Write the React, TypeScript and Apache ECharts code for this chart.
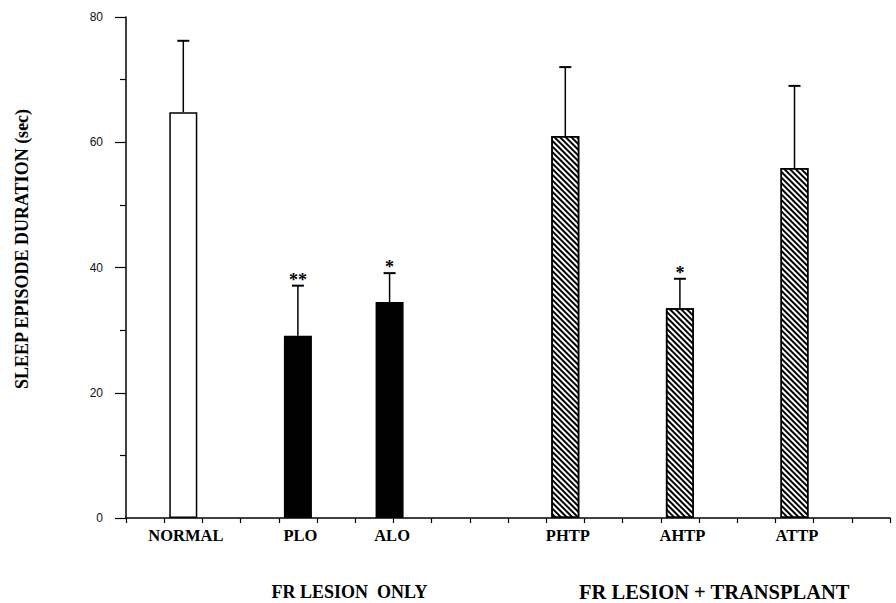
import React, { useEffect, useRef } from "react";
import * as echarts from "echarts";

const categories = ["NORMAL", "PLO", "ALO", "PHTP", "AHTP", "ATTP"];
const positions = [1.5, 4.5, 6.9, 11.5, 14.5, 17.5];
const means = [64.8, 29.1, 34.5, 61.0, 33.5, 55.9];
const errorTops = [76.2, 37.1, 39.1, 72.0, 38.2, 69.0];
const stars = ["", "**", "*", "", "*", ""];
const fills = ["white", "black", "black", "hatch", "hatch", "hatch"];
const groupLabels = ["FR LESION  ONLY", "FR LESION + TRANSPLANT"];
const groupPositions = [5.85, 15.4];
const groupFontSizes = [18, 20.5];
const yTicks = [0, 20, 40, 60, 80];

const SERIF = "'Liberation Serif', 'DejaVu Serif', serif";

export default function App() {
  const ref = useRef<HTMLDivElement>(null);
  useEffect(() => {
    if (!ref.current) return;
    const chart = echarts.init(ref.current, undefined, { renderer: "svg" });
    const hatchDecal = {
      symbol: "rect",
      symbolSize: 1,
      dashArrayX: [1, 0],
      dashArrayY: [1.7, 1.5],
      rotation: Math.PI / 4,
      color: "#000",
      backgroundColor: "#fff",
    };
    const barData = positions.map((x, i) => {
      const f = fills[i];
      return {
        value: [x, means[i]],
        itemStyle:
          f === "white"
            ? { color: "#fff", borderColor: "#000", borderWidth: 1.5 }
            : f === "black"
            ? { color: "#000", borderColor: "#000", borderWidth: 1.5 }
            : { color: "#fff", borderColor: "#000", borderWidth: 1.5, decal: hatchDecal },
      };
    });
    const option: any = {
      animation: false,
      backgroundColor: "#fff",
      aria: { enabled: false },
      grid: { left: 126, right: 6, top: 17, bottom: 85, containLabel: false },
      xAxis: {
        type: "value",
        min: 0,
        max: 20,
        interval: 1,
        splitLine: { show: false },
        axisLine: { show: true, onZero: false, lineStyle: { color: "#000", width: 1.5 } },
        axisTick: { show: true, inside: false, length: 5, lineStyle: { color: "#000", width: 1.2 } },
        axisLabel: { show: false },
      },
      yAxis: {
        type: "value",
        min: 0,
        max: 80,
        interval: 20,
        splitLine: { show: false },
        axisLine: { show: true, lineStyle: { color: "#000", width: 1.5 } },
        axisTick: { show: true, length: 11, lineStyle: { color: "#000", width: 1.2 } },
        minorTick: { show: true, splitNumber: 2, length: 6, lineStyle: { color: "#000", width: 1.2 } },
        axisLabel: {
          margin: 23,
          color: "#111",
          fontSize: 12,
          fontFamily: "'Liberation Sans', Arial, sans-serif",
          formatter: (v: number) => (yTicks.includes(v) ? String(v) : ""),
        },
      },
      graphic: [
        {
          type: "text",
          x: 22,
          y: 249,
          rotation: Math.PI / 2,
          style: {
            text: "SLEEP EPISODE DURATION (sec)",
            font: `bold 18px ${SERIF}`,
            fill: "#000",
            align: "center",
            verticalAlign: "middle",
          },
        },
      ],
      series: [
        {
          type: "bar",
          barWidth: 28,
          data: barData,
          z: 2,
        },
        {
          type: "custom",
          clip: false,
          z: 3,
          data: positions.map((x, i) => [x, means[i], errorTops[i]]),
          renderItem: (params: any, api: any) => {
            const i = params.dataIndex;
            const b = api.coord([api.value(0), api.value(1)]);
            const t = api.coord([api.value(0), api.value(2)]);
            const children: any[] = [
              { type: "line", shape: { x1: b[0], y1: b[1], x2: t[0], y2: t[1] }, style: { stroke: "#000", lineWidth: 1.5 } },
              { type: "line", shape: { x1: t[0] - 6, y1: t[1], x2: t[0] + 6, y2: t[1] }, style: { stroke: "#000", lineWidth: 2 } },
            ];
            if (stars[i]) {
              children.push({
                type: "text",
                x: t[0],
                y: t[1] - 6,
                style: {
                  text: stars[i],
                  font: `bold 18px ${SERIF}`,
                  fill: "#000",
                  align: "center",
                  verticalAlign: "middle",
                },
              });
            }
            return { type: "group", children };
          },
        },
        {
          type: "custom",
          clip: false,
          z: 3,
          data: positions.map((x) => [x, 0]),
          renderItem: (params: any, api: any) => {
            const p = api.coord([api.value(0), 0]);
            return {
              type: "text",
              x: p[0] + 2.5,
              y: p[1] + 17,
              style: {
                text: categories[params.dataIndex],
                font: `bold 16.5px ${SERIF}`,
                fill: "#000",
                align: "center",
                verticalAlign: "middle",
              },
            };
          },
        },
        {
          type: "custom",
          clip: false,
          z: 3,
          data: groupPositions.map((x) => [x, 0]),
          renderItem: (params: any, api: any) => {
            const p = api.coord([api.value(0), 0]);
            return {
              type: "text",
              x: p[0],
              y: p[1] + 74,
              style: {
                text: groupLabels[params.dataIndex],
                font: `bold ${groupFontSizes[params.dataIndex]}px ${SERIF}`,
                fill: "#000",
                align: "center",
                verticalAlign: "middle",
              },
            };
          },
        },
      ],
    };
    chart.setOption(option);
    return () => chart.dispose();
  }, []);
  return (
    <div
      ref={ref}
      style={{ position: "absolute", left: 0, top: 0, width: 896, height: 603 }}
    />
  );
}
